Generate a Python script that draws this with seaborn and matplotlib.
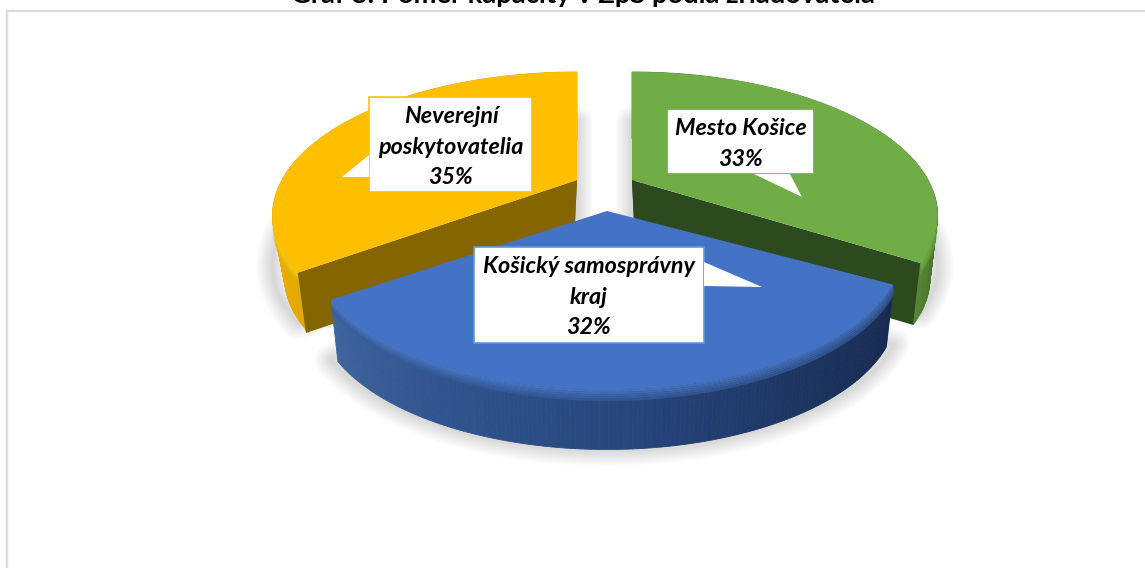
import numpy as np
import matplotlib
matplotlib.use("Agg")
import matplotlib.pyplot as plt
import seaborn as sns

# ---- data -------------------------------------------------------------
categories = ["Mesto Košice", "Košický samosprávny kraj", "Neverejní poskytovatelia"]
shares = [33, 32, 35]
label_text = ["Mesto Košice\n33%", "Košický samosprávny\nkraj\n32%", "Neverejní\nposkytovatelia\n35%"]
title_text = "Graf 8: Pomer kapacity v ZpS podľa zriaďovateľa"

# ---- styling / layout ---------------------------------------------------
sns.set_theme(style="white")
plt.rcParams["font.family"] = ["Lato", "DejaVu Sans"]

top_cols = ["#70AD47", "#4472C4", "#FDBF00"]
cut_cols = ["#2C4A1D", "#1F3864", "#856500"]
side_ramps = [["#4C7A2E", "#5F9A3A", "#446C29"],
              ["#3E649F", "#30548E", "#27467C", "#1D3562", "#172A4F"],
              ["#E9AE00", "#DFA700", "#D9A200"]]
bevel_cols = ["#7DB957", "#4F80D2", "#FFD21F"]
apex = [(632, 180), (607, 211), (577, 180)]
span_x = [296, 288, 295]
end_pad_deg = [3.5, 1.5, 0.0]
shrink = [0.975, 0.975, 0.96]
shadow_drop = [50, 60, 50]
shadow_alpha = [0.008, 0.006, 0.008]
B, k, DEPTH = 134.7, 0.2473, 64

boxes = [(667, 109, 814, 174), (474, 247, 704, 343), (369, 97, 532, 192)]
tails = [[(754, 174), (802, 197), (790, 174)],
         [(704, 262), (762, 287), (704, 286)],
         [(369, 155), (342, 177), (369, 177)]]
box_edges = ["#70AD47", "#5B9BD5", "#FFC000"]
text_xy = [(741, 144), (589, 297), (451, 147)]

fig = plt.figure(figsize=(11.45, 5.68), dpi=100, facecolor="white")
ax = fig.add_axes([0, 0, 1, 1])
ax.set_xlim(0, 1145)
ax.set_ylim(568, 0)
ax.axis("off")


def project(theta, r, i):
    """Perspective view of a disc point, theta clockwise from 12 o'clock."""
    X, Y = r * np.sin(theta), r * np.cos(theta)
    w = 1 + k * Y
    return span_x[i] * X / w, -B * Y / w


fractions = np.array(shares) / sum(shares)
edges = np.concatenate([[0], np.cumsum(fractions)]) * 2 * np.pi


def wedge_rim(i, n=160):
    t0, t1 = edges[i], edges[i + 1] + np.deg2rad(end_pad_deg[i])
    return project(np.linspace(t0, t1, n), 1.0, i)


# frame: open on the right, bottom cropped
ax.plot([7, 7, 1145], [568, 11, 11], color="#DDDDDD", lw=1.7, zorder=1, solid_joinstyle="miter")

# soft shadows
for i in [2, 0, 1]:
    sx, sy = wedge_rim(i)
    cx, cy = apex[i]
    for w in np.linspace(24, 1, 20):
        ax.fill(np.r_[cx, cx + sx], np.r_[cy + shadow_drop[i], cy + shadow_drop[i] + sy],
                facecolor=(0, 0, 0, 0.0), edgecolor=(0, 0, 0, shadow_alpha[i]), lw=w,
                joinstyle="round", zorder=2)

# wedges: back to front
for z, i in enumerate([2, 0, 1]):
    cx, cy = apex[i]
    sx, sy = wedge_rim(i)
    tx, ty = cx + sx, cy + sy
    bx, by = cx + sx * shrink[i], cy + sy * shrink[i] + DEPTH
    base = 10 + z * 10

    # outer wall, horizontal colour ramp
    ramp = sns.blend_palette(side_ramps[i], n_colors=len(tx))
    order = np.argsort(np.argsort(tx))
    for j in range(len(tx) - 1):
        c = ramp[order[j]]
        ax.fill([tx[j], tx[j + 1], bx[j + 1], bx[j]], [ty[j], ty[j + 1], by[j + 1], by[j]],
                color=c, lw=0.6, zorder=base)
    # rounded bevel at the top of the wall
    bevel = sns.blend_palette([bevel_cols[i], side_ramps[i][1]], n_colors=6)
    for m, c in enumerate(bevel[:-1]):
        f0, f1 = m * 2.2, (m + 1) * 2.2
        ax.fill(np.r_[tx, tx[::-1]], np.r_[ty + f0, ty[::-1] + f1],
                color=c, alpha=0.75, lw=0, zorder=base + 1)

    # cut faces (the blue wedge shows none of its own)
    if i != 1:
        lean = 3 if i == 0 else -3
        ax.fill([cx, tx[-1], bx[-1], cx + lean], [cy, ty[-1], by[-1], cy + DEPTH],
                color=cut_cols[i], lw=0, zorder=base + 2)
        ax.fill([cx, tx[0], bx[0] + lean, cx + lean], [cy, ty[0], by[0], cy + DEPTH],
                color=cut_cols[i], lw=0, zorder=base + 2)

    # top face
    ax.fill(np.r_[cx, tx], np.r_[cy, ty], color=top_cols[i], lw=0, zorder=base + 3)

# callouts
for i in range(3):
    x0, y0, x1, y1 = boxes[i]
    ax.fill([x0, x1, x1, x0], [y0, y0, y1, y1], facecolor="white", edgecolor=box_edges[i],
            lw=1.2, zorder=50)
    tx_, ty_ = zip(*tails[i])
    ax.fill(tx_, ty_, facecolor="white", edgecolor="none", lw=0, zorder=51)
    ax.text(*text_xy[i], label_text[i], ha="center", va="center", fontsize=16.8, fontweight="bold",
            fontstyle="italic", color="black", linespacing=1.56, zorder=52)

ax.text(583, 3, title_text, ha="center", va="baseline", fontsize=19.7, fontweight="bold",
        color="black", zorder=60)

fig.savefig("out.png", dpi=100, facecolor="white")
